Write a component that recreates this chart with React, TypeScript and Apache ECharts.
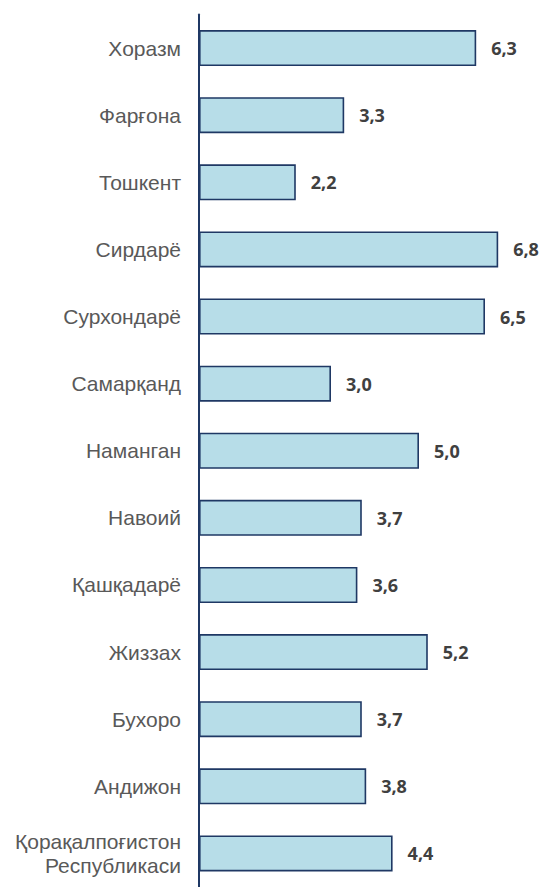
import React, { useEffect, useRef } from "react";
import * as echarts from "echarts";

const categories = [
  "Хоразм",
  "Фарғона",
  "Тошкент",
  "Сирдарё",
  "Сурхондарё",
  "Самарқанд",
  "Наманган",
  "Навоий",
  "Қашқадарё",
  "Жиззах",
  "Бухоро",
  "Андижон",
  "Қорақалпоғистон\nРеспубликаси",
];
const values = [6.3, 3.3, 2.2, 6.8, 6.5, 3.0, 5.0, 3.7, 3.6, 5.2, 3.7, 3.8, 4.4];

export default function App() {
  const ref = useRef<HTMLDivElement>(null);
  useEffect(() => {
    if (!ref.current) return;
    const chart = echarts.init(ref.current, undefined, { renderer: "svg" });
    chart.setOption({
      animation: false,
      backgroundColor: "#ffffff",
      grid: { left: 199, top: 14.5, width: 308, height: 876.5, containLabel: false },
      xAxis: {
        type: "value",
        min: 0,
        max: 7,
        show: false,
      },
      yAxis: {
        type: "category",
        inverse: true,
        data: categories,
        axisLine: { show: true, lineStyle: { color: "#1f3864", width: 2 } },
        axisTick: { show: false },
        axisLabel: {
          color: "#595959",
          fontFamily: "'Liberation Sans'",
          fontSize: 21,
          margin: 18,
          lineHeight: 24,
          align: "right",
        },
      },
      series: [
        {
          type: "bar",
          data: values,
          barWidth: 36,
          itemStyle: { color: "#b7dde8", borderColor: "#1f3864", borderWidth: 1.6 },
          label: {
            show: true,
            position: "right",
            distance: 15,
            color: "#404040",
            fontFamily: "'Open Sans'",
            fontWeight: "bold",
            fontSize: 18,
            formatter: (p: any) => p.value.toFixed(1).replace(".", ","),
          },
        },
      ],
    });
    return () => chart.dispose();
  }, []);
  return (
    <div
      ref={ref}
      style={{ position: "fixed", left: 0, top: 0, width: 543, height: 887, background: "#fff" }}
    />
  );
}
